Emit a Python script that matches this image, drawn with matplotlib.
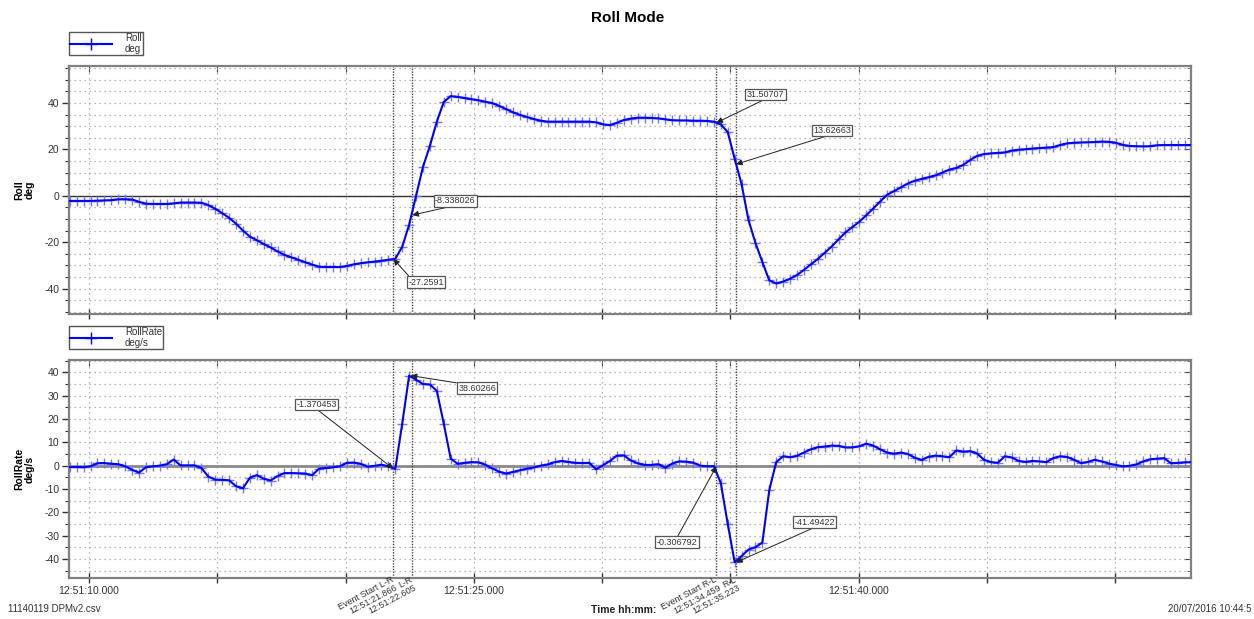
import numpy as np
import matplotlib
matplotlib.use('Agg')
import matplotlib.pyplot as plt
from matplotlib.ticker import MultipleLocator, FuncFormatter, NullFormatter
from matplotlib.lines import Line2D

plt.rcParams['font.family'] = ['Liberation Sans', 'DejaVu Sans']
plt.rcParams['axes.unicode_minus'] = False

# ---------------- data (seconds after 12:51:00) ----------------
t0 = 9.25
sample_period = 0.27

roll = [-2.2, -2.2, -2.2, -2.2, -2.1, -2.0, -1.9, -1.5, -1.5, -1.6,
        -2.6, -3.4, -3.5, -3.5, -3.5, -3.3, -2.9, -2.9, -2.9, -3.0,
        -4.0, -5.6, -7.5, -9.5, -12.0, -15.0, -17.6, -19.2, -20.8, -22.3,
        -24.0, -25.5, -26.6, -27.6, -28.7, -29.7, -30.6, -30.7, -30.7, -30.7,
        -30.3, -29.6, -29.1, -28.7, -28.4, -28.0, -27.6, -27.2, -22.0, -12.5,
        0.0, 12.5, 21.6, 32.0, 40.5, 43.0, 42.7, 42.2, 41.7, 41.2,
        40.6, 40.0, 38.8, 37.4, 36.0, 34.9, 34.0, 33.1, 32.4, 32.0,
        32.0, 32.0, 32.0, 32.0, 32.0, 32.0, 31.7, 30.8, 30.5, 31.5,
        32.7, 33.3, 33.7, 33.7, 33.6, 33.4, 33.0, 32.6, 32.5, 32.5,
        32.4, 32.4, 32.3, 32.0, 30.8, 27.5, 16.0, 5.0, -10.5, -20.3,
        -28.6, -36.5, -37.8, -37.0, -35.8, -34.2, -32.0, -29.6, -27.3, -24.6,
        -21.9, -18.8, -15.8, -13.5, -11.2, -8.4, -5.5, -2.5, 0.4, 2.0,
        3.6, 5.3, 6.5, 7.3, 8.0, 8.8, 10.0, 11.3, 12.0, 13.3,
        15.4, 17.2, 18.0, 18.3, 18.5, 18.7, 19.5, 19.9, 20.1, 20.4,
        20.6, 20.8, 21.0, 21.9, 22.6, 22.9, 23.0, 23.1, 23.2, 23.4,
        23.3, 22.9, 22.0, 21.5, 21.4, 21.3, 21.4, 21.8, 21.9, 21.9,
        21.9, 21.9, 21.9]

roll_rate = [-0.6, -0.6, -0.7, -0.3, 1.0, 1.1, 0.8, 0.6, -0.3, -1.8,
             -3.0, -0.7, -0.3, 0.0, 0.6, 2.6, 0.1, 0.1, 0.1, -1.0,
             -4.7, -6.0, -6.1, -6.3, -8.8, -9.8, -5.2, -4.1, -5.6, -6.4,
             -4.5, -3.2, -3.2, -3.3, -3.4, -4.1, -1.3, -1.0, -0.7, -0.3,
             1.2, 1.3, 0.8, -0.5, -0.1, 0.4, -0.3, -1.4, 18.0, 38.6,
             36.8, 35.0, 34.8, 32.0, 18.0, 3.0, 0.8, 1.2, 1.5, 1.4,
             0.4, -1.2, -2.6, -3.4, -2.7, -2.0, -1.3, -0.8, 0.0, 0.5,
             1.5, 2.0, 1.6, 1.2, 1.1, 1.2, -1.6, 0.2, 2.0, 4.3,
             4.4, 2.2, 1.0, 0.3, 0.3, 0.6, -0.9, 0.9, 1.8, 1.7,
             1.3, 0.0, -0.3, -0.2, -7.5, -25.0, -41.4, -38.8, -36.0, -35.0,
             -33.0, -10.5, 1.5, 4.0, 3.6, 4.2, 5.6, 7.0, 7.9, 8.2,
             8.6, 8.5, 7.8, 7.8, 8.3, 9.4, 8.6, 7.0, 5.6, 5.1,
             5.6, 5.0, 3.4, 2.4, 3.8, 4.3, 4.0, 3.6, 6.5, 6.0,
             6.2, 5.2, 2.5, 1.5, 1.2, 4.0, 3.5, 2.0, 1.6, 2.0,
             1.8, 1.5, 3.2, 4.0, 3.7, 2.5, 1.1, 1.6, 2.5, 1.8,
             0.9, 0.3, -0.3, -0.1, 0.5, 1.8, 2.7, 3.0, 3.2, 1.0,
             1.2, 1.4, 1.5]

time_s = t0 + sample_period * np.arange(len(roll))

event_times = [21.866, 22.605, 34.459, 35.223]
event_labels = ["Event Start L-R\n12:51:21.866", "L-R\n12:51:22.605",
                "Event Start R-L\n12:51:34.459", "R-L\n12:51:35.223"]

# annotations: point x, point y, label, text x, text y, arrow start (relpos)
roll_ann_x = [21.866, 22.605, 34.459, 35.223]
roll_ann_y = [-27.2591, -8.338026, 31.50707, 13.62663]
roll_ann_lbl = ["-27.2591", "-8.338026", "31.50707", "13.62663"]
roll_ann_tx = [23.14, 24.28, 36.37, 38.97]
roll_ann_ty = [-37.2, -2.2, 43.7, 28.2]
roll_ann_rel = [(0.05, 1.0), (0.5, 0.0), (0.5, 0.0), (0.45, 0.0)]

rate_ann_x = [21.866, 22.54, 34.459, 35.223]
rate_ann_y = [-1.370453, 38.60266, -0.306792, -41.49422]
rate_ann_lbl = ["-1.370453", "38.60266", "-0.306792", "-41.49422"]
rate_ann_tx = [18.87, 25.13, 32.92, 38.28]
rate_ann_ty = [26.2, 33.2, -32.8, -24.2]
rate_ann_rel = [(0.5, 0.0), (0.1, 1.0), (0.5, 1.0), (0.55, 0.0)]

xlim = (9.22, 52.96)
labelled_seconds = [10, 25, 40]

# ---------------- figure ----------------
W, H = 1254, 619
fig = plt.figure(figsize=(W / 100, H / 100), dpi=100)
ax1 = fig.add_axes([69 / W, 1 - 314 / H, 1122 / W, 248 / H])
ax2 = fig.add_axes([69 / W, 1 - 578 / H, 1122 / W, 218 / H])

line_col = '#0000ff'
mark_col = '#7878ff'
txt_col = '#333333'
grid_col = '#a0a0a0'


def fmt_time(v, pos):
    s = int(round(v))
    if abs(v - s) < 1e-6 and s in labelled_seconds:
        return "12:51:%06.3f" % v
    return ""


def style_axes(ax, ylim, major, minor, vals, label, zero_col, zero_lw):
    ax.set_xlim(*xlim)
    ax.set_ylim(*ylim)
    ax.xaxis.set_major_locator(MultipleLocator(5))
    ax.yaxis.set_major_locator(MultipleLocator(major))
    ax.yaxis.set_minor_locator(MultipleLocator(minor))
    ax.grid(True, which='major', axis='x', color=grid_col, ls=(0, (1, 3)), lw=0.9)
    ax.grid(True, which='both', axis='y', color=grid_col, ls=(0, (1, 3)), lw=0.9)
    ax.set_axisbelow(True)
    for sp in ax.spines.values():
        sp.set_color('#808080')
        sp.set_linewidth(1.6)
    ax.tick_params(axis='x', which='major', direction='inout', length=7, width=1,
                   top=False, colors='#333333', labelsize=7.5, labelcolor=txt_col, pad=2)
    ax.tick_params(axis='y', which='major', direction='out', length=5, width=1,
                   colors='#333333', labelsize=7.5, labelcolor=txt_col, pad=2)
    ax.tick_params(axis='y', which='minor', direction='out', length=3, width=0.8,
                   colors='#333333')
    sec = ax.secondary_yaxis('right')
    sec.yaxis.set_major_locator(MultipleLocator(major))
    sec.yaxis.set_minor_locator(MultipleLocator(minor))
    sec.tick_params(which='major', direction='in', length=5, labelright=False, colors='#444')
    sec.tick_params(which='minor', direction='in', length=3, colors='#444')
    sec.spines['right'].set_visible(False)
    secx = ax.secondary_xaxis('top')
    secx.xaxis.set_major_locator(MultipleLocator(5))
    secx.xaxis.set_major_formatter(NullFormatter())
    secx.tick_params(direction='in', length=4, colors='#444')
    secx.spines['top'].set_visible(False)
    ax.axhline(0, color=zero_col, lw=zero_lw, zorder=2)
    for et in event_times:
        ax.axvline(et, color='#444444', ls=(0, (1, 1)), lw=1.0, zorder=2)
    ax.plot(time_s, vals, ls='none', marker='+', ms=7, mew=1.0, color=mark_col, zorder=3)
    ax.plot(time_s, vals, color=line_col, lw=1.5, zorder=4)
    ax.set_ylabel(label, fontsize=7.5, fontweight='bold', color='black',
                  linespacing=1.0)
    ax.yaxis.set_label_coords(-0.031, 0.5)


style_axes(ax1, (-51, 56), 20, 5, roll, "Roll\ndeg", '#333333', 1.0)
style_axes(ax2, (-48.2, 45.3), 10, 5, roll_rate, "RollRate\ndeg/s", '#8a8a8a', 2.0)

ax1.xaxis.set_major_formatter(FuncFormatter(lambda v, p: ""))
ax2.xaxis.set_major_formatter(FuncFormatter(fmt_time))

# legends
for ax, lab, dy in [(ax1, "Roll\ndeg", 1 + 11 / 248), (ax2, "RollRate\ndeg/s", 1 + 11 / 218)]:
    h = Line2D([], [], color=line_col, lw=1.5, marker='+', ms=8, mew=1.0)
    leg = ax.legend([h], [lab], loc='lower left', bbox_to_anchor=(0, dy),
                    borderaxespad=0, fancybox=False, edgecolor='#555555',
                    fontsize=7, handlelength=4.3, handletextpad=1.3,
                    borderpad=0.15, labelspacing=0.1, framealpha=1)
    leg.get_frame().set_linewidth(1.0)
    for tx in leg.get_texts():
        tx.set_color(txt_col)
        tx.set_linespacing(1.05)


# annotations
def annotate(ax, xs, ys, lbls, txs, tys, rels):
    for x, y, l, tx, ty, rp in zip(xs, ys, lbls, txs, tys, rels):
        ax.annotate(l, xy=(x, y), xytext=(tx, ty), ha='center', va='center',
                    fontsize=6.5, color=txt_col, zorder=6,
                    bbox=dict(boxstyle='square,pad=0.15', fc='white', ec='#555555', lw=0.9),
                    arrowprops=dict(arrowstyle='-|>', color='#222222', lw=0.7,
                                    mutation_scale=9, shrinkA=0, shrinkB=0, relpos=rp))


annotate(ax1, roll_ann_x, roll_ann_y, roll_ann_lbl, roll_ann_tx, roll_ann_ty, roll_ann_rel)
annotate(ax2, rate_ann_x, rate_ann_y, rate_ann_lbl, rate_ann_tx, rate_ann_ty, rate_ann_rel)

# rotated event labels beneath lower axes
for et, lb in zip(event_times, event_labels):
    ax2.text(et - 0.1, 0.014, lb, transform=ax2.get_xaxis_transform(),
             rotation=28, rotation_mode='anchor', ha='right', va='top',
             fontsize=6.5, color=txt_col, linespacing=1.0, clip_on=False)

# title and footer
fig.text(628 / W, 1 - 18 / H, "Roll Mode", ha='center', va='center',
         fontsize=11, fontweight='bold')
fig.text(8 / W, 1 - 609 / H, "11140119 DPMv2.csv", ha='left', va='center',
         fontsize=7, color=txt_col)
fig.text(591 / W, 1 - 610 / H, "Time hh:mm:", ha='left', va='center',
         fontsize=7.5, fontweight='bold', color='#222222')
fig.text(1252 / W, 1 - 609 / H, "20/07/2016 10:44:5", ha='right', va='center',
         fontsize=7, color=txt_col)

fig.savefig('out.png', dpi=100)
